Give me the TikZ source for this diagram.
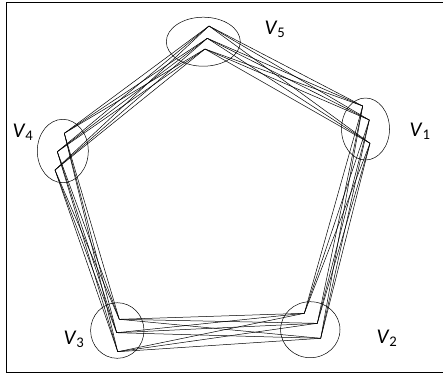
\documentclass[tikz,border=0pt]{standalone}
\usepackage{fontspec}
\setmainfont{Carlito}
\usepackage{tikz}
\usetikzlibrary{calc}

\tikzset{
    edge/.style={line width=0.5pt},
    cluster/.style={line width=0.5pt},
    vlabel/.style={font=\fontsize{21}{24}\selectfont}
}
\newcommand{\vname}[1]{\textit{V}\textsubscript{#1}}

\begin{document}
\begin{tikzpicture}[x=1pt, y=-1pt]
    \useasboundingbox (0,0) rectangle (443,376);
    % Frame
    \draw[line width=0.8pt] (445,2.5) -- (6.5,2.5) -- (6.5,372) -- (445,372);

    % Points of each vertex cluster
    \coordinate (v1a) at (362.7,106);
    \coordinate (v1b) at (369.3,120);
    \coordinate (v1c) at (370,143.3);
    \coordinate (v2a) at (304.3,313.3);
    \coordinate (v2b) at (317.3,323.3);
    \coordinate (v2c) at (320.7,338.3);
    \coordinate (v3a) at (119.3,319.3);
    \coordinate (v3b) at (116.7,332.7);
    \coordinate (v3c) at (117.7,351.7);
    \coordinate (v4a) at (64.3,133.3);
    \coordinate (v4b) at (57.3,151.7);
    \coordinate (v4c) at (55,170);
    \coordinate (v5a) at (209,26);
    \coordinate (v5b) at (207.3,38.3);
    \coordinate (v5c) at (205,49);

    % Edges between neighbouring clusters
    \foreach \i/\j in {1/2,2/3,3/4,4/5,5/1}
        \foreach \p in {a,b,c}
            \foreach \q in {a,b,c}
                \draw[edge] (v\i\p) -- (v\j\q);

    % Cluster ellipses
    \draw[cluster] (365.5,129) ellipse (24 and 31);
    \draw[cluster] (310.3,329.7) ellipse (29.7 and 28);
    \draw[cluster] (117.3,330.5) ellipse (26.7 and 27.8);
    \draw[cluster] (62.8,151) ellipse (25.5 and 31.7);
    \draw[cluster] (203.3,41.7) ellipse (37 and 24.5);

    % Labels
    \node[vlabel] (l1) at (420,131) {\vname{1}};
    \node[vlabel] (l2) at (387,338) {\vname{2}};
    \node[vlabel] (l3) at (74,339) {\vname{3}};
    \node[vlabel] (l4) at (23,132) {\vname{4}};
    \node[vlabel] (l5) at (275,29) {\vname{5}};
\end{tikzpicture}
\end{document}
